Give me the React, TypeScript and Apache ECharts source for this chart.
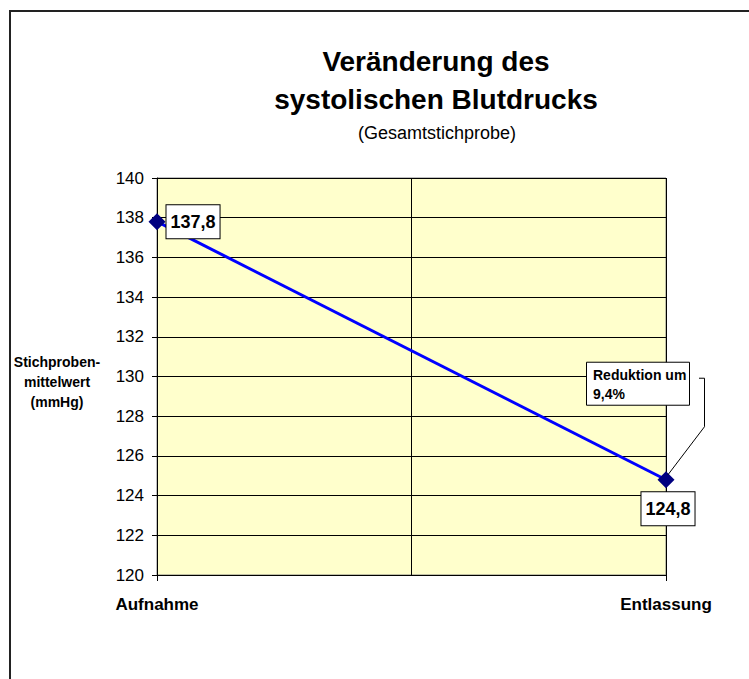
import React, { useEffect, useRef } from "react";
import * as echarts from "echarts";

const categories = ["Aufnahme", "Entlassung"];
const meanValues = [137.8, 124.8];
const yTicks = { min: 120, max: 140, interval: 2 };
const titleLines = ["Veränderung des", "systolischen Blutdrucks"];
const subtitle = "(Gesamtstichprobe)";
const yAxisName = "Stichproben-\nmittelwert\n(mmHg)";
const annotationText = "Reduktion um\n9,4%";

const FONT = "'Liberation Sans', Arial, Helvetica, sans-serif";

export default function App() {
  const ref = useRef<HTMLDivElement>(null);
  useEffect(() => {
    if (!ref.current) return;
    const chart = echarts.init(ref.current, null, { renderer: "svg" });
    const fmt = (v: number) => String(v).replace(".", ",");
    chart.setOption({
      animation: false,
      backgroundColor: "#ffffff",
      textStyle: { fontFamily: FONT },
      title: [
        {
          text: titleLines.join("\n"),
          left: 431,
          top: 37,
          textAlign: "center",
          textStyle: { fontFamily: FONT, fontSize: 28, fontWeight: "bold", color: "#000", lineHeight: 38 },
        },
        {
          text: subtitle,
          left: 432,
          top: 119,
          textAlign: "center",
          textStyle: { fontFamily: FONT, fontSize: 18, fontWeight: "normal", color: "#000" },
        },
      ],
      grid: {
        left: 157,
        top: 178,
        right: 83,
        bottom: 104,
        show: true,
        backgroundColor: "#FFFFCC",
        borderColor: "#808080",
        borderWidth: 1,
      },
      xAxis: [
        {
          type: "category",
          data: categories,
          boundaryGap: false,
          axisLine: { lineStyle: { color: "#000", width: 1 } },
          axisTick: { show: true, length: 6, lineStyle: { color: "#000" } },
          axisLabel: { fontFamily: FONT, fontSize: 17, fontWeight: "bold", color: "#000", margin: 21 },
          splitLine: { show: false },
        },
        {
          type: "category",
          data: categories,
          boundaryGap: true,
          position: "bottom",
          axisLine: { show: false },
          axisTick: { show: false },
          axisLabel: { show: false },
          splitLine: { show: true, lineStyle: { color: "#000", width: 1 } },
        },
      ],
      yAxis: {
        type: "value",
        min: yTicks.min,
        max: yTicks.max,
        interval: yTicks.interval,
        axisLine: { show: true, lineStyle: { color: "#000", width: 1 } },
        axisTick: { show: true, inside: false, length: 5, lineStyle: { color: "#000" } },
        axisLabel: { fontFamily: FONT, fontSize: 17, color: "#000", margin: 13 },
        splitLine: { show: true, lineStyle: { color: "#000", width: 1 } },
      },
      series: [
        {
          type: "line",
          data: [
            { value: meanValues[0], label: { position: "right", distance: 1 } },
            { value: meanValues[1], label: { position: "bottom", distance: 4, offset: [2, 0] } },
          ],
          xAxisIndex: 0,
          lineStyle: { color: "#0000FF", width: 3 },
          symbol: "diamond",
          symbolSize: 17,
          itemStyle: { color: "#000080" },
          label: {
            show: true,
            formatter: (p: any) => fmt(p.value),
            fontFamily: FONT,
            fontSize: 18,
            fontWeight: "bold",
            color: "#000",
            backgroundColor: "#fff",
            borderColor: "#000",
            borderWidth: 1,
            padding: [8, 4, 7, 4],
          },
          emphasis: { disabled: true },
        },
      ],
    });

    const p = chart.convertToPixel({ xAxisIndex: 0, yAxisIndex: 0 }, [1, meanValues[1]]) as number[];
    const px = p[0];
    const py = p[1];
    chart.setOption({
      graphic: [
        {
          type: "rect",
          shape: { x: 10, y: 11, width: 900, height: 900 },
          style: { fill: "none", stroke: "#222", lineWidth: 2 },
          silent: true,
          z: 100,
        },
        {
          type: "text",
          x: 57,
          y: 352,
          style: {
            text: yAxisName,
            fontFamily: FONT,
            fontSize: 14,
            fontWeight: "bold",
            fill: "#000",
            align: "center",
            verticalAlign: "top",
            lineHeight: 20,
          },
        },
        {
          type: "rect",
          shape: { x: px - 79.5, y: py - 117.5, width: 103, height: 43 },
          style: { fill: "#fff", stroke: "#000", lineWidth: 1 },
          z: 50,
        },
        {
          type: "text",
          x: px - 73,
          y: py - 114,
          style: {
            text: annotationText,
            fontFamily: FONT,
            fontSize: 14,
            fontWeight: "bold",
            fill: "#000",
            lineHeight: 19,
          },
          z: 51,
        },
        {
          type: "polyline",
          shape: {
            points: [
              [px + 33, py - 101.5],
              [px + 38.5, py - 101.5],
              [px + 38.5, py - 53],
              [px + 2, py - 5],
            ],
          },
          style: { fill: "none", stroke: "#000", lineWidth: 1 },
          z: 50,
        },
      ],
    });
    return () => chart.dispose();
  }, []);
  return (
    <div
      ref={ref}
      style={{ position: "fixed", left: 0, top: 0, width: 749, height: 679 }}
    />
  );
}
